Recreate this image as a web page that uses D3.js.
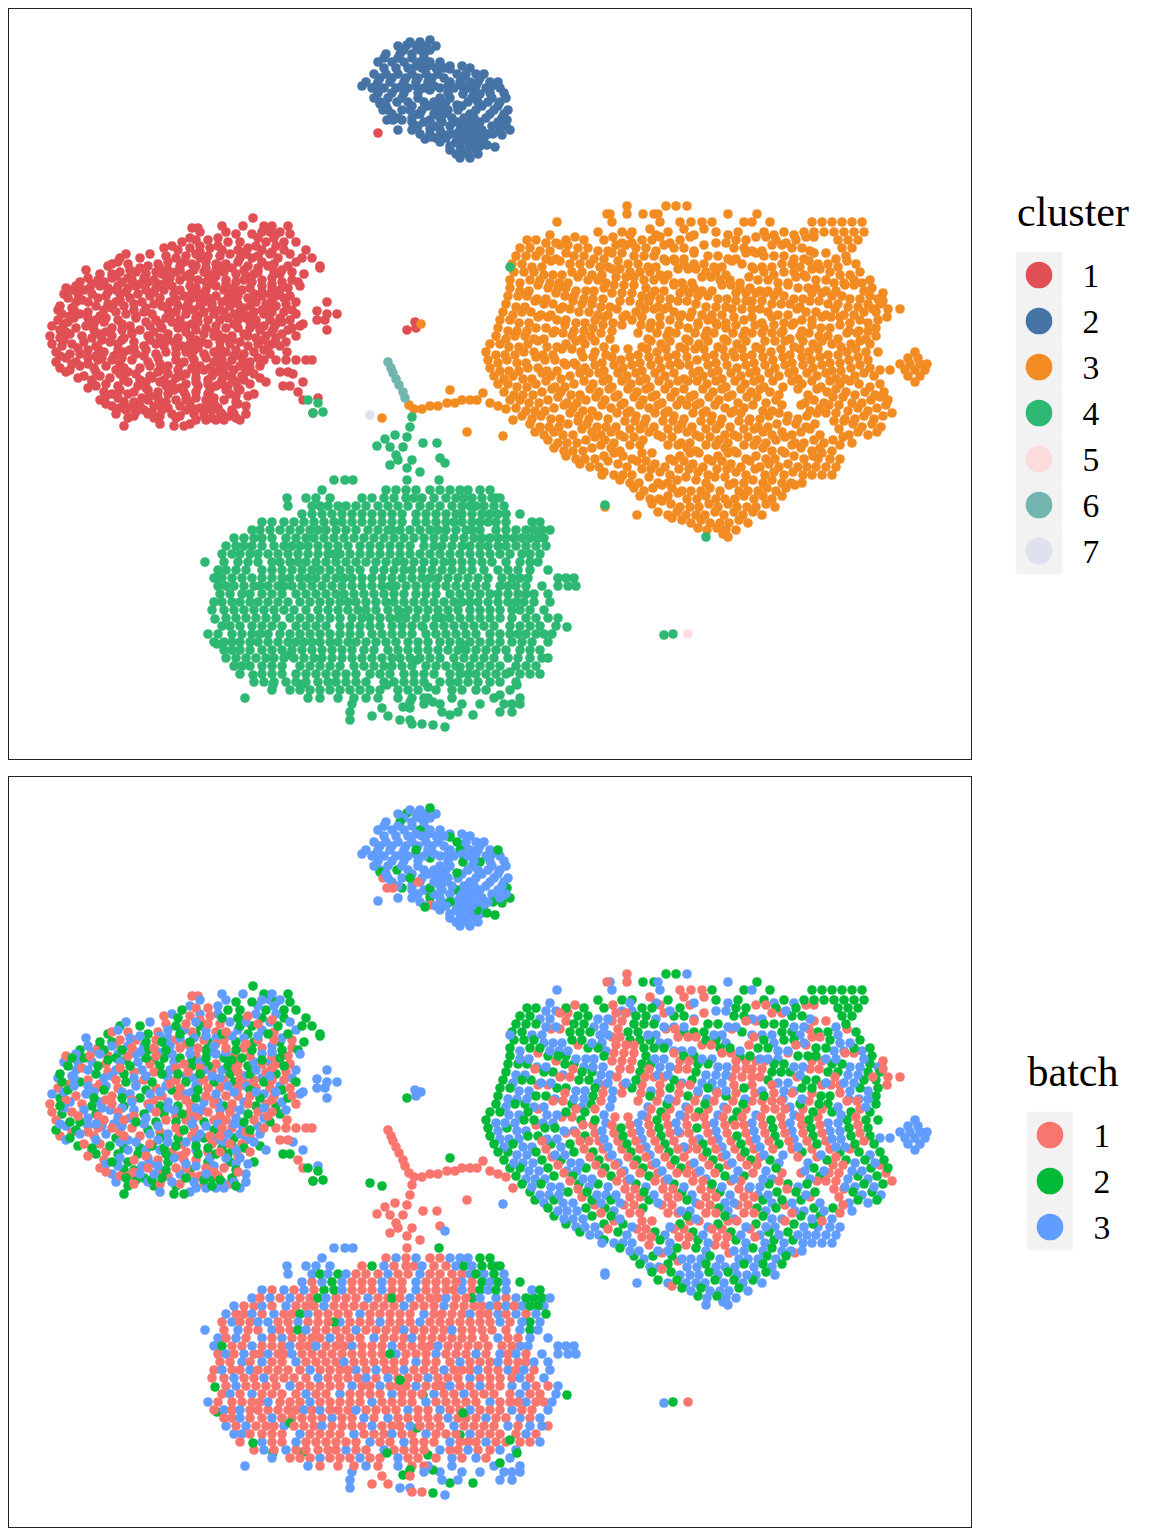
<!DOCTYPE html>
<html>
<head>
<meta charset="utf-8">
<script src="https://cdn.jsdelivr.net/npm/d3@7"></script>
<style>
html, body { margin: 0; background: #fff; }
text { font-family: "Liberation Serif", "Times New Roman", serif; fill: #000; }
</style>
</head>
<body>
<div id="chart"></div>
<script>
const cluster1Rows = [
[218,2,253],[226,2,264,288],[226,3,222,243,272],[228,1,192,198],[232,3,200,226,262,270,280],[234,2,236,252,276,290],
[238,3,190,218,258,274],[240,1,196,208],[242,2,182,228,240,266,284,296],[246,3,172,200,218,256,276],[248,1,164,190,210,248],
[250,2,178,222,238,262,284,306],[254,3,126,150,196,230,246,270,290],[256,1,166,186,208,220,258],[258,2,120,140,176,200,240,252,278,302,312],
[262,3,118,168,184,206,238,262,296],[264,1,112,128,158,192,216,226,274],[266,2,108,148,180,196,222,248,268,288,320],
[270,3,86,130,168,180,194,216,244,282],[272,1,120,136,156,176,204,224,258,274,292],[274,2,100,112,146,162,190,208,236,254,280,304],
[278,3,88,112,128,144,170,190,214,272],[280,1,98,132,154,180,198,226,244,262,292],[282,2,80,104,122,148,166,206,236,252,282,298],
[286,3,76,100,118,136,172,190,216,262,300],[288,1,66,90,108,128,156,196,234,250,272,288],[290,2,72,84,116,146,164,180,206,224,242,280],
[294,3,64,78,92,120,138,174,200,254,270],[296,1,106,150,184,216,238,262,276,290],[298,2,68,98,130,160,192,208,228,248,284],
[302,3,76,88,116,142,170,204,222,256,296],[304,1,108,134,154,188,212,238,266,286],[306,2,60,96,124,162,178,200,230,250,276],
[310,3,58,74,104,134,168,194,220,262,292],[312,1,88,116,144,176,204,224,240,254,272,284],[314,2,62,80,126,152,186,214,234,264,296],
[318,3,74,88,106,136,166,196,228,246,280],[320,1,58,96,118,156,180,208,220,238,256,270,290],[322,2,68,104,146,172,198,250,282],
[326,3,52,86,130,150,186,216,264,300],[328,1,76,112,162,178,206,226,238,250,274,292],[330,2,60,94,122,140,196,260,288],
[334,3,70,100,132,168,204,218,244,282],[336,1,50,82,112,148,190,214,232,248,266,296],[338,2,60,92,124,160,178,224,256,276],
[342,3,84,110,134,174,202,220,240,286],[344,1,52,72,118,156,190,208,230,258,272],[346,2,62,96,144,164,182,248,280],
[350,3,88,118,130,146,194,236,264],[352,1,56,104,124,166,186,214,226,254],[354,2,70,80,136,156,176,204,244,270],
[358,3,66,88,102,122,158,206,242,258],[360,1,98,112,132,176,194,222,232,264,276,286,296,306,312],[362,2,56,76,148,184,214,250],
[366,3,80,106,150,168,200,228,240,260],[368,1,60,94,124,140,192,210,220,250],[370,2,70,116,160,178,204,234],[372,1,280,288],
[374,3,120,136,168,186,224,254,293],[376,1,84,100,150,182,212,230,242],[378,2,78,110,152,176,196,232,260],[382,3,92,128,146,160,196,236,266,303],
[384,1,106,172,186,208,220,250],[386,2,96,118,138,166,198,216,228,283,290],[390,3,120,148,174,210,226,240],[392,1,104,134,158,184,196,298],
[394,2,112,128,168,208,230,254],[398,3,118,142,158,196,214,318],[400,1,100,148,176,186,206,224,303],[402,2,124,134,166,190,236],
[406,3,112,140,154,180,206,246],[408,1,120,128,168,192,200,218],[410,2,126,144,162,186,212,232],[413,1,313],[414,3,116,148,172,194,222,234,246],
[416,1,134,160,180,204,230],[418,2,128,154,176,212,236],[420,3,196,206,216,224,240],[424,3,160,190],[426,2,124,174,184],
[252,1,200,244,272],[268,3,140,160,206,232,258],[276,1,116,186,216,246],[284,3,92,140,158,210,226,272],[292,2,108,126,154,192,232,262],
[300,1,82,120,176,200,236,272],[308,3,72,112,146,186,212,244,270],[316,1,70,100,136,170,198,248],[324,3,64,94,122,160,192,234,256,276],
[332,1,66,106,132,154,186,214,272],[340,3,64,102,122,150,168,196,232,264],[348,1,78,98,134,176,198,220,268],[356,3,60,96,114,144,192,218,234],
[364,1,72,88,120,160,180,246],[372,3,66,96,128,158,196,216,246],[380,2,92,124,140,164,208,222,244],[388,1,88,146,180,238],[396,3,106,150,186,236,248],
[404,1,106,134,162,214,238],[412,2,136,152,204,220],
[302,3,327],[311,3,317],[314,3,327,337],[320,3,317,325],[324,3,303],[330,3,327],[268,2,320],[133,3,378],[352,1,287],[322,3,415],[328,3,416],[330,2,407]
];
const cluster2Rows = [
[42,3,410,420],[40,2,430],[46,3,398,416,426,436],[45,2,407],[54,3,386,412,424],[54,2,400],[62,3,378,392,404,430,440],[62,2,420],
[66,3,416,428,450,462],[69,2,450],[74,3,374,386,398,412,426,438,466,476,484],[74,2,457],[82,3,366,378,390,404,428,450,470,478,490],[82,2,498,460,416],
[88,3,372,384,396,408,424,440,454,468,486,500],[90,2,430],[94,2,463,480],[98,3,374,388,402,418,440,450,472,492,506],[102,2,397],[104,2,380],
[106,3,386,412,428,440,462,482,498],[105,2,457],[110,2,410],[110,1,383],[114,3,392,420,434,444,470,490,504],[114,1,418],[120,2,402,430,507],
[120,1,387,393],[122,3,412,424,442,468,480,498],[122,2,457],[130,3,398,412,440,460,470,482,500],[129,2,430],[130,2,510],[134,2,450,493],[135,2,502],
[137,1,431],[139,2,425],[138,3,436,446,462,472,484],[142,2,477],[145,2,487],[147,2,495],[146,3,450,460,470,480],[154,3,456,468,478],[158,3,460,470],
[50,3,404,420,430],[58,3,398,412,424,384],[68,3,384,396,408,422,436,444,470],[78,3,380,392,406,418,432,444,462,480],[86,3,362,376,402,416,434,448,462,476,492],
[93,3,378,392,404,418,448,474,490,504],[102,3,380,408,424,434,446,468,478,488,500],[110,3,388,402,422,436,448,458,476,494,508],[118,3,398,412,440,452,464,474,486,502],
[126,3,418,434,450,462,476,492,506],[134,3,420,430,442,456,466,478,488],[142,3,440,456,468,],[150,3,450,462,476]
];
const cluster3Rows = [
[206,2,666,676],[206,1,627],[206,3,687],[214,2,643,654,757],[214,1,607,627],[214,3,610,658,728],
[222,2,712,744,770,812,822,832,842,852,862],[222,1,680,691,702],[222,3,557,612,660,752],
[232,2,598,622,632,668,716,738,764,784,804,814,824,834,844,854,864],[235,3,550,630,656,694,728,774,794],[229,1,650,684,704],
[240,2,527,536,566,584,604,642,652,680,736,746,776,796,838,848,858],[243,3,546,556,622,632,670,716,726,786],[237,1,575,613,660,690,756,766,806,814],
[248,2,520,530,578,588,636,646,674,684,734,744,792,802,842,852],[251,3,540,550,598,608,656,694,752,762,810],[245,1,560,568,616,626,664,704,772,782],
[256,2,516,526,536,574,584,634,644,654,708,718,764,774,784,846],[259,3,546,556,594,604,664,674,684,728,736,794,804,836],[253,1,566,612,622,694,746,756,814,826],
[264,2,512,522,570,580,590,628,638,684,694,704,742,782,792,818,828,856],[267,3,532,542,600,608,648,656,714,722,752,762,772,800,838],[261,1,551,560,618,666,675,732,809,847],
[272,2,514,524,534,572,582,630,640,650,706,716,764,784,794,830,860],[275,3,544,553,562,592,602,660,668,726,774,804,840,850],[269,1,612,620,678,688,696,754,812,820],
[280,2,510,530,540,588,598,644,654,664,720,730,758,768,816,826,854,870],[283,3,520,550,559,568,606,674,682,692,740,778,788,834,844,862],[277,1,578,616,626,634,702,711,749,796,806],
[288,2,510,548,558,566,604,646,684,694,740,750,798,808,816,872],[291,3,520,529,576,586,594,655,664,702,712,760,768,778,826,836,864],[285,1,538,614,624,634,674,722,731,788,845,854],
[296,2,508,518,527,565,574,642,651,698,708,774,784,832,842,870],[299,3,537,546,584,593,603,660,670,718,727,794,803,850,860,878],[293,1,556,612,622,632,680,689,736,746,756,765,812,822,883],
[304,2,506,544,553,582,592,640,696,772,781,790,828,838,868,880],[307,3,516,525,563,601,610,658,668,706,716,726,800,848,858],[301,1,535,573,620,630,649,678,687,736,746,752,762,810,819,883],
[312,2,503,522,531,579,589,636,674,692,768,806,816,864,876],[315,3,513,541,551,598,608,626,682,702,712,722,778,788,826,844,854],[309,1,560,570,617,645,654,664,732,742,752,760,797,835,873,888,900],
[320,2,500,510,557,566,595,632,670,708,744,802,812,860,878],[323,3,519,529,576,585,613,651,698,716,726,762,784,794,850,868],[317,1,538,548,604,623,642,660,680,690,734,752,772,822,831,840,887],
[328,2,498,536,546,593,650,688,726,764,821,830,876],[331,3,508,517,527,555,574,584,612,669,707,745,783,802,849,859,868],[325,1,565,603,622,641,660,679,698,717,736,755,774,792,812,840],
[336,2,496,515,525,572,591,667,705,743,800,819,828,876],[339,3,506,534,544,582,610,648,686,724,790,838,866],[333,1,553,563,601,638,657,676,695,714,733,752,762,772,781,809,847,857],
[344,2,490,500,528,566,585,661,699,737,813,832,851,870],[347,3,509,519,547,557,604,642,680,718,756,794,841],[341,1,538,576,595,651,670,689,708,727,746,765,775,785,803,822,860],
[352,2,486,524,534,581,595,657,733,771,809,847,866,878],[355,3,496,505,515,543,553,606,638,676,714,752,790,828,838],[349,1,562,572,615,628,647,666,685,695,704,723,742,761,781,800,818,856],
[360,2,488,507,545,555,621,659,697,773,811,849,868],[363,3,498,517,526,564,574,602,640,678,716,754,792,830,840],[357,1,536,583,593,612,630,649,668,687,706,725,735,744,763,783,802,820,858],
[368,2,490,528,538,585,623,661,737,775,813,851,870],[371,3,500,509,519,547,557,604,642,699,718,756,794,832,841],[365,1,566,576,595,614,632,651,670,680,689,708,727,746,765,785,803,822,860],
[376,2,494,513,551,570,627,665,703,741,779,817,855,874],[379,3,504,523,532,561,608,646,684,722,760,798,836,845],[373,1,542,580,589,599,618,636,655,674,693,712,731,750,769,789,807,826,864],
[384,2,498,508,536,574,593,631,669,707,745,802,840,859,880],[387,3,517,527,555,565,612,650,726,764,783,821,870],[381,1,546,584,603,622,640,659,678,688,697,716,735,754,773,792,812,830,850],
[392,2,504,542,561,599,637,675,713,751,770,827,846,865,884],[395,3,514,523,533,571,580,618,656,694,732,779,808,855,875],[389,1,552,590,609,628,646,665,684,703,722,741,760,798,817,836],
[400,2,510,520,548,586,605,643,681,719,776,814,871,888],[403,3,529,539,567,577,624,662,700,738,766,805,824,852,862],[397,1,558,596,615,634,652,671,690,709,728,747,757,833,843,880],
[408,2,516,554,573,611,649,725,744,820,858,877],[411,3,526,535,545,583,592,630,668,706,734,763,772,810,848,868],[405,1,564,602,621,640,658,677,687,696,715,753,782,801,829,839,886],
[416,2,522,541,579,598,636,674,712,769,788,807,864,883],[419,3,532,551,560,589,608,646,684,722,750,760,798,845,855,874],[413,1,570,617,627,655,665,693,703,731,741,779,817,826,836,892],
[424,2,530,568,587,644,682,720,777,796,815,853,872],[427,3,540,549,559,597,606,616,654,692,730,758,768,806,862,881],[421,1,578,625,635,663,673,701,711,739,749,787,834,844],
[432,2,535,554,592,611,649,687,763,782,801,858,877],[435,3,544,563,573,601,620,658,696,725,734,772,792,820,849,868],[429,1,582,630,640,668,678,706,716,744,754,810,839],
[440,2,548,586,605,643,719,757,776,814,833],[443,3,558,567,577,614,681,690,728,766,795,804,824,852],[437,1,595,624,634,662,672,700,710,738,748,785,843],
[448,2,554,592,611,687,725,763,801,820],[451,3,564,573,583,620,696,734,772,782,812,832],[445,1,601,630,640,668,678,706,716,744,754,792,840],
[456,2,566,604,623,680,718,756,794,813],[459,3,576,585,595,632,670,708,746,766,775,804,818,830,840],[453,1,614,642,652,690,699,728,737,785,822],
[464,2,580,618,655,693,731,769,788],[467,3,590,599,627,665,703,741,760,779,798,807,816,826,836],[461,1,608,637,646,674,684,712,722,750],
[472,2,604,660,698,736,774,793],[475,3,602,614,623,632,670,708,746,765,784,803,812,822,832],[469,1,642,651,679,689,717,727,755],
[480,2,620,677,696,753,772],[483,3,630,639,658,668,706,734,744,763,782,791,802],[477,1,649,686,715,725],
[488,2,634,653,672,710,767,786],[491,3,644,682,691,701,720,739,748,758,776],[485,1,662,729,795],
[496,2,640,668,706,744,763,782],[499,3,650,659,687,697,716,725,735,754,772],[493,1,678],
[504,2,652,671,709,728,766],[507,3,680,690,699,718,737,747,756,775,605],[501,1,662],
[512,2,658,677,715,734,753],[515,3,668,686,696,705,724,743,762,637],[520,2,682,701,739],[523,3,691,710,720,729,748],[518,1,672],
[528,2,698,717],[530,3,707,726,736],[534,3,723],[537,3,728],
[393,1,483],[400,1,477,470,462],[403,1,455,447,490],[406,1,438,430,498],[409,1,422,414,506],[405,1,409],[420,1,513],[432,1,467],[436,3,503],[390,2,450],[418,2,382],
[352,3,915],[358,3,908,918],[364,3,900,910,920,927],[370,3,880,890,905,915,925],[376,3,908,920],[382,3,915],[324,3,421]
];
const cluster4Rows = [
[417,1,412],[427,1,410],[437,1,407],[435,1,395],[439,1,385],[446,1,377],[447,1,390,403],[443,1,423,437],[455,1,396],[460,1,398,412],[465,1,390],[468,1,407],[472,1,420],[480,1,407],
[463,3,445],[458,1,440],[480,2,439],[400,2,308],[403,2,318],[412,2,323],[413,2,313],
[480,3,353,345,334],[490,3,322,396,416,450,460,468],[490,2,480,490],[490,1,386,406,430,440],
[498,3,287,306,316,330,384,422,456,472,496],[498,1,362,394,406,414,434,446],[498,2,372,464,482,492,500],
[506,3,288,312,328,346,388,420,470,484,504],[506,1,356,366,378,398,408,430,440,452,462],[506,2,320,338,476,494],
[514,3,302,322,342,382,416,462,490,506],[514,1,312,352,362,372,392,402,426,436,446,456,472],[514,2,332,482,498,520],
[522,3,262,284,304,342,382,416,462,488,506,532],[522,1,272,294,314,352,362,372,392,402,426,436,446,454,472],[522,2,324,334,480,496,540],
[530,3,252,270,290,326,368,410,446,480,496,516,550],[530,1,260,280,300,310,336,346,356,378,388,400,420,430,438,456,466,506],[530,2,318,392,472,526,534,542],
[538,3,234,262,286,324,404,444,490,506,522,544],[538,1,244,254,272,296,306,314,334,344,354,364,374,384,394,414,424,434,454,464,474,482,498,514],[538,2,530,538],
[546,3,226,252,274,308,360,424,470,498,516,536],[546,1,236,244,262,284,292,318,328,338,348,370,380,390,400,410,434,442,452,462,480,488,506,526],[546,2,300,546],
[554,3,232,258,268,298,340,380,420,500,522,540],[554,1,222,240,250,278,288,308,318,328,350,360,370,390,400,410,430,440,450,460,470,480,490,510],[554,2,334,530],
[562,3,205,238,272,306,356,404,452,520,538],[562,1,224,248,258,280,290,316,326,336,346,366,376,386,396,414,424,434,444,462,472,482,492,506],[562,2,298,530],
[570,3,218,236,262,282,330,374,412,498,530,548],[570,1,226,246,272,292,302,312,320,340,350,360,384,394,404,422,432,442,452,462,472,484,508,518],
[578,3,214,252,290,316,352,392,438,520,528,558,566,574],[578,1,232,242,262,272,282,300,308,326,336,344,362,372,382,402,412,422,430,448,458,468,478,488,502,512],[578,2,222,217],
[586,3,226,244,268,292,396,436,476,500,516,542,558,568,576],[586,1,218,234,254,260,278,284,302,312,322,332,342,352,362,372,382,406,416,426,446,456,466,486,508,526],[586,2,390],
[594,3,242,262,296,344,416,460,498,534,548],[594,1,220,230,250,272,282,306,316,326,336,354,364,374,384,394,404,426,436,450,470,480,490,508,518,526],
[602,3,222,250,310,356,376,404,444,478,508,524,550],[602,1,214,232,240,258,268,278,288,300,320,330,340,348,366,386,394,414,424,434,454,462,470,488,498,516,534],
[610,3,234,264,318,366,388,428,470,520,544],[610,1,212,224,244,254,274,284,294,306,328,338,348,358,376,398,408,418,438,448,458,480,490,500,512,530],[612,2,400],[619,2,215],
[618,3,236,290,352,380,416,450,480,512,526,558],[618,1,226,246,256,266,276,300,310,320,330,340,362,370,390,398,406,426,436,442,460,470,490,500,536,548],
[626,3,230,252,306,340,392,434,464,520,556],[626,1,222,240,262,272,282,296,316,326,350,360,370,380,402,412,422,444,454,474,484,494,510,530,540],[627,2,567,423],
[634,3,208,268,310,372,426,490,526,552],[634,1,218,232,242,252,260,280,290,300,320,330,340,350,360,382,392,402,412,436,446,456,466,476,500,510,518,536,544],
[642,3,224,240,304,320,356,408,440,470,512,548],[642,1,214,232,250,258,268,278,288,296,312,330,338,348,366,376,386,396,418,428,450,460,480,490,500,522,532],[644,2,217],[645,2,463],
[650,3,240,272,332,364,388,448,486,520,540],[650,1,224,232,250,262,282,292,302,312,322,342,352,374,398,408,418,428,438,458,466,476,496,506,530],[655,2,290],
[658,3,226,246,284,322,372,410,454,508,530,542],[658,1,236,256,266,274,294,304,314,332,342,352,362,382,392,400,420,430,440,464,474,484,494,518,548],[660,2,417],
[666,3,234,242,300,354,392,426,470,526],[666,1,250,262,272,282,310,320,330,340,364,374,384,402,412,436,446,456,480,490,500,516,536],[667,2,460],[672,2,510],
[674,3,262,296,370,404,450,486,540],[674,1,240,272,282,306,316,326,336,346,356,380,390,414,424,434,460,468,476,496,506,520,530],[675,2,253],
[682,3,264,286,346,384,440,468,500,516],[682,1,254,274,296,306,318,328,336,356,366,394,404,414,424,450,458,478,490],[684,2,303],[685,2,273,387,517],[687,2,428],
[690,3,272,320,360,398,452,476,510],[690,1,290,300,310,330,340,350,370,380,408,418,436,462,486],[695,2,500],
[698,3,245,308,366,398,428,452,494,520],[698,1,320,338,354,378,412,424],[702,2,410,433],[707,2,403],
[704,3,352,424,440,462,480,504,512,520],[708,1,382,410],[712,3,350,442,458,500,512],[715,2,450,473],[716,1,372,388],[720,3,350,400,410],[724,1,412,422],[725,2,433],[727,3,445],
[267,3,510],[505,3,605],[537,3,706],[635,3,664],[634,2,673]
];
const cluster5Rows = [[634,1,688]];
const cluster6Rows = [[362,1,388],[368,1,391],[373,1,393],[379,1,396],[385,1,399],[392,1,403],[398,1,405]];
const cluster7Rows = [[415,2,370]];

const clusterLabels = ["1", "2", "3", "4", "5", "6", "7"];
const clusterColors = ["#E04F54", "#4573A6", "#F28B21", "#2DB873", "#FCDBDD", "#72B5AF", "#DFE1EE"];
const batchLabels = ["1", "2", "3"];
const batchColors = ["#F8766D", "#00BA38", "#619CFF"];

const sources = [
    ["1", cluster1Rows], ["2", cluster2Rows], ["3", cluster3Rows],
    ["6", cluster6Rows], ["4", cluster4Rows], ["5", cluster5Rows], ["7", cluster7Rows]
];

// mix the batches within each cluster, otherwise the last batch hides the others
const ordered = sources.flatMap(([cluster, rows]) => {
    const pts = rows.flatMap(([y, batch, ...xs]) => xs.map(x => ({ x, y, cluster, batch: String(batch) })));
    return d3.sort(pts, d => (d.x * 7 + d.y * 13) % 11);
});

const width = 1152, height = 1536;
const panelWidth = 962, panelHeight = 750;

const svg = d3.select('#chart')
    .append('svg')
    .attr('width', width)
    .attr('height', height)
    .style('display', 'block');

const x = d3.scaleLinear().domain([9, 971]).range([0, panelWidth]);
const y = d3.scaleLinear().domain([9, 759]).range([0, panelHeight]);

function drawPanel(top, field, labels, colors, title, labelX, keyX, keyTop) {
    const color = d3.scaleOrdinal().domain(labels).range(colors);
    const g = svg.append('g').attr('transform', `translate(9, ${top})`);

    g.selectAll('circle')
        .data(ordered)
        .enter()
        .append('circle')
        .attr('cx', d => x(d.x))
        .attr('cy', d => y(d.y))
        .attr('r', 4.8)
        .style('fill', d => color(d[field]));

    g.append('rect')
        .attr('x', -0.5)
        .attr('y', -0.5)
        .attr('width', panelWidth + 1)
        .attr('height', panelHeight + 1)
        .style('fill', 'none')
        .style('stroke', '#222')
        .style('stroke-width', 1);

    const keySize = 46;
    const key = d3.scaleBand().domain(labels).range([keyTop, keyTop + keySize * labels.length]);
    const legend = svg.append('g');

    legend.append('text')
        .attr('x', 1073)
        .attr('y', keyTop - 26)
        .style('font-size', '42px')
        .style('text-anchor', 'middle')
        .text(title);

    legend.selectAll('.key')
        .data(labels)
        .enter()
        .append('rect')
        .attr('x', keyX)
        .attr('y', d => key(d))
        .attr('width', keySize)
        .attr('height', keySize)
        .style('fill', '#F2F2F2')
        .style('stroke', '#F7F7F7')
        .style('stroke-width', 0.5);

    legend.selectAll('.dot')
        .data(labels)
        .enter()
        .append('circle')
        .attr('cx', keyX + keySize / 2)
        .attr('cy', d => key(d) + keySize / 2)
        .attr('r', 13.3)
        .style('fill', d => color(d));

    legend.selectAll('.label')
        .data(labels)
        .enter()
        .append('text')
        .attr('x', labelX)
        .attr('y', d => key(d) + keySize / 2 + 11.5)
        .style('font-size', '33.6px')
        .style('text-anchor', 'middle')
        .text(d => d);
}

drawPanel(9, 'cluster', clusterLabels, clusterColors, 'cluster', 1091, 1016, 252);
drawPanel(777, 'batch', batchLabels, batchColors, 'batch', 1102, 1027, 1112);
</script>
</body>
</html>
